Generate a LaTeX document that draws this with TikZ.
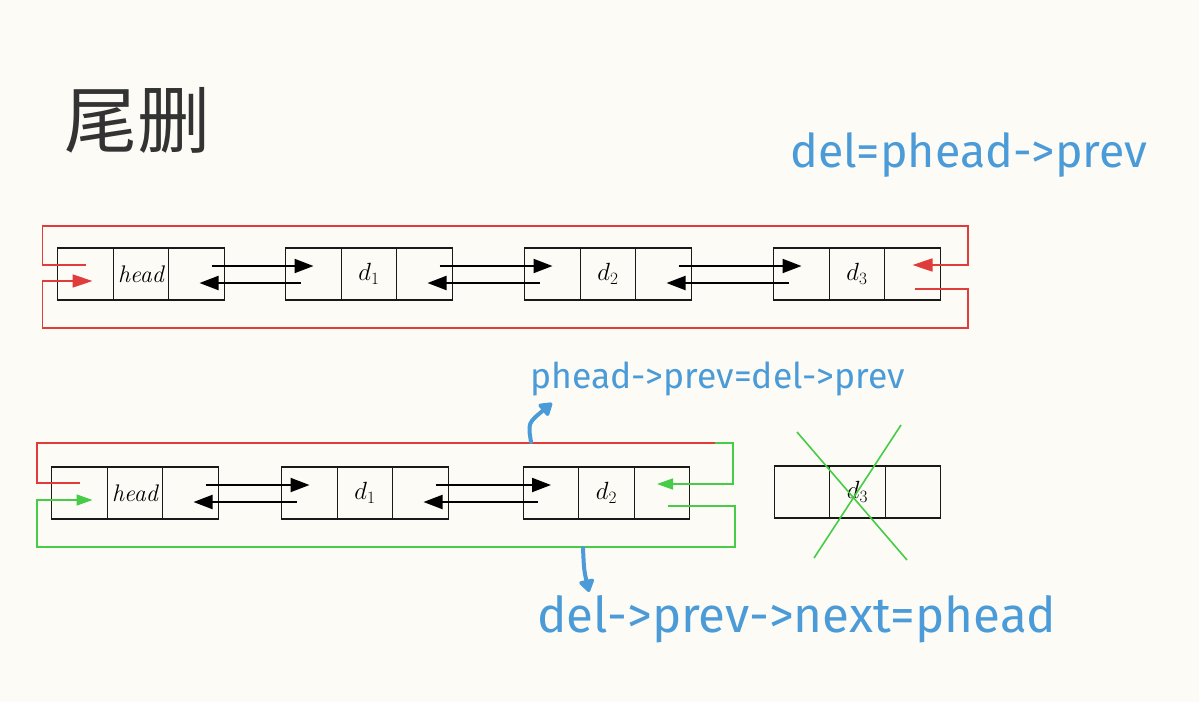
\documentclass[tikz,border=0pt]{standalone}
\usepackage{fontspec}
\usepackage{tikz}
\usetikzlibrary{arrows.meta, positioning}
\newfontfamily\handfont{Fira Sans}
\newfontfamily\cjkfont{Noto Sans CJK SC}
\definecolor{paper}{HTML}{FCFBF5}
\definecolor{wirered}{HTML}{E03C3C}
\definecolor{wiregreen}{HTML}{46CC46}
\definecolor{noteblue}{HTML}{4A9BD7}
\definecolor{inkgray}{HTML}{333333}

\tikzset{
  cell/.style={draw=black!90, line width=1.2pt, minimum width=55.5pt, minimum height=52pt,
    inner sep=0pt, outer sep=0pt, font=\fontsize{24}{28}\selectfont\itshape},
  link/.style={line width=2pt, -{Triangle[length=19pt,width=14pt]}},
  redwire/.style={draw=wirered, line width=1.6pt},
  greenwire/.style={draw=wiregreen, line width=1.6pt},
  note/.style={text=noteblue, inner sep=0pt, anchor=base west},
  hint/.style={noteblue, line width=4pt, line cap=round, -{Triangle[length=14pt,width=17pt,round]}}
}

% one list node = prev | data | next
\newcommand{\dlnode}[3]{%
  \node[cell] (#1) at (#2) {#3};
  \node[cell, left=0pt of #1] (#1-p) {};
  \node[cell, right=0pt of #1] (#1-n) {};
}

\begin{document}
\begin{tikzpicture}[x=1pt, y=-1pt]
  \fill[paper] (0,0) rectangle (1199,702);
  \useasboundingbox (0,0) rectangle (1199,702);

  \node[text=inkgray, font=\cjkfont\fontsize{73}{75}\selectfont, inner sep=0pt] (title) at (137,120) {尾删};

  % before
  \dlnode{head1}{141,274}{head}
  \dlnode{one1}{369,274}{$d_1$}
  \dlnode{two1}{608,274}{$d_2$}
  \dlnode{three1}{857,274}{$d_3$}

  % after
  \dlnode{head2}{135,493}{head}
  \dlnode{one2}{365,493}{$d_1$}
  \dlnode{two2}{606.5,493}{$d_2$}
  \dlnode{gone}{857.5,492}{$d_3$}

  \foreach \a/\b in {head1/one1, one1/two1, two1/three1, head2/one2, one2/two2} {
    \draw[link] ([shift={(15,-8)}]\a-n.center) -- ([shift={(0,-8)}]\b-p.center);
    \draw[link] ([shift={(-13,9)}]\b-p.center) -- ([shift={(3,9)}]\a-n.center);
  }

  % circular links, before
  \draw[redwire, -{Triangle[length=20pt,width=13pt]}, wirered]
    ([shift={(0,-9)}]head1-p.center) -- ++(-43,0) |- ++(925.5,-39) |- ([shift={(0,-9)}]three1-n.center);
  \draw[redwire, -{Triangle[length=20pt,width=13pt]}, wirered]
    ([shift={(2,15)}]three1-n.center) -- ++(53.5,0) |- ++(-925.5,39) |- ([shift={(7,7)}]head1-p.center);

  % circular links, after
  \coordinate (cut) at (715,443);
  \draw[redwire] ([shift={(0,-10)}]head2-p.center) -- ++(-42.5,0) |- (cut);
  \draw[greenwire, -{Triangle[length=16pt,width=11pt]}, wiregreen]
    (cut) -- ++(18,0) |- ([shift={(-5,-9)}]two2-n.center);
  \draw[greenwire, -{Triangle[length=16pt,width=11pt]}, wiregreen]
    ([shift={(6,13)}]two2-n.center) -- ++(67,0) |- ++(-698,41) |- ([shift={(13,7)}]head2-p.center);

  \draw[greenwire] ([shift={(-60.5,-60)}]gone.center) -- ([shift={(49.5,68)}]gone.center);
  \draw[greenwire] ([shift={(43.5,-67)}]gone.center) -- ([shift={(-43.5,66)}]gone.center);

  % notes
  \node[note, font=\handfont\fontsize{46.5}{50}\selectfont] (del-note) at (790,167) {del=phead->prev};
  \node[note, font=\handfont\fontsize{35.5}{40}\selectfont] (prev-note) at (530,388) {phead->prev=del->prev};
  \node[note, font=\handfont\fontsize{49.3}{52}\selectfont] (next-note) at (537,632) {del->prev->next=phead};

  \coordinate (up-from) at (531,442);
  \coordinate (up-to) at (552,403);
  \draw[hint] (up-from) .. controls (528,423) .. (up-to);
  \coordinate (down-from) at (583,548);
  \coordinate (down-to) at (589,592);
  \draw[hint] (down-from) .. controls (584,570) .. (down-to);
\end{tikzpicture}
\end{document}
